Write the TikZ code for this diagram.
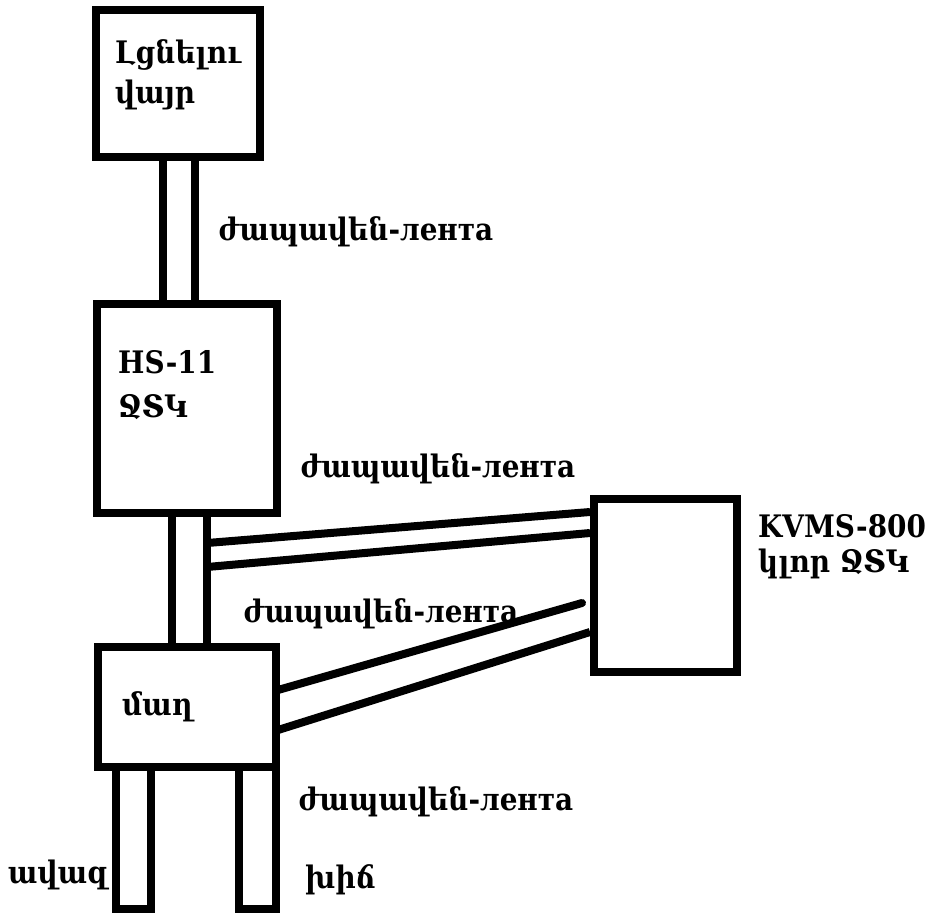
\documentclass[tikz,border=0pt]{standalone}
\usepackage{fontspec}
\setmainfont{DejaVu Serif Condensed}
\usetikzlibrary{positioning}
\usetikzlibrary{calc}

\begin{document}
\begin{tikzpicture}[x=1pt, y=-1pt,
  box/.style={draw, rectangle, line width=8pt, inner sep=0pt},
  tape/.style={line width=8pt},
  lbl/.style={anchor=base west, inner sep=0pt, align=left, font=\bfseries\fontsize{31}{40}\selectfont}]
 \useasboundingbox (0,0) rectangle (931,914);

 % Set the boxes
 \node[box, minimum width=164pt, minimum height=147pt] (fill) at (178,83.5) {};
 \node[box, minimum width=180pt, minimum height=209pt] (hs) at (187,408.5) {};
 \node[box, minimum width=178pt, minimum height=120pt] (sieve) at (187,707) {};
 \node[box, minimum width=143pt, minimum height=173pt] (kvms) at (665.5,585.5) {};

 % Texts in and beside the boxes (base = last line)
 \node[lbl] (tfill) at (115,103) {Լցնելու\\վայր};
 \node[lbl] (ths) at (118,417) {HS-11\\[4pt]ՋՏԿ};
 \node[lbl] (tsieve) at (122,715) {մաղ};
 \node[lbl] (tkvms) at (758,572) {KVMS-800\\[-5pt]կլոր ՋՏԿ};
 \node[lbl] (tsand) at (8,883) {ավազ};
 \node[lbl] (tgravel) at (305,888) {խիճ};

 % Tape labels
 \node[lbl] (l1) at (218,240) {ժապավեն-лента};
 \node[lbl] (l2) at (300,477) {ժապավեն-лента};
 \node[lbl] (l3) at (243,622) {ժապավեն-лента};
 \node[lbl] (l4) at (298,810) {ժապավեն-лента};

 % Vertical tapes between the boxes
 \foreach \dx in {-15,17} {
   \draw[tape] ($(fill.south)+(\dx,0)$) coordinate (a) -- (a |- hs.north);
 }
 \foreach \dx in {-15,20} {
   \draw[tape] ($(hs.south -| fill.south)+(\dx+9,0)$) coordinate (a) -- (a |- sieve.north);
 }
 \coordinate (t2r) at ($(hs.south)+(20,0)$);

 % Tapes to the KVMS box
 \draw[tape] ($(t2r)+(0,26)$) -- ($(kvms.west)+(0,-73.5)$);
 \draw[tape] ($(t2r)+(0,50)$) -- ($(kvms.west)+(0,-52.5)$);
 \coordinate (free) at ($(kvms.west)+(-8,17.5)$);
 \draw[tape, line cap=round] ($(sieve.east)+(-2,-17)$) -- (free);
 \draw[tape] ($(sieve.east)+(-2,23)$) -- ($(kvms.west)+(0,46.5)$);

 % Tapes going out of the sieve
 \draw[tape] ($(sieve.south)+(-71,-4)$) rectangle ++(35,142);
 \draw[tape] ($(sieve.south)+(52,-4)$) rectangle ++(37,142);
\end{tikzpicture}
\end{document}
